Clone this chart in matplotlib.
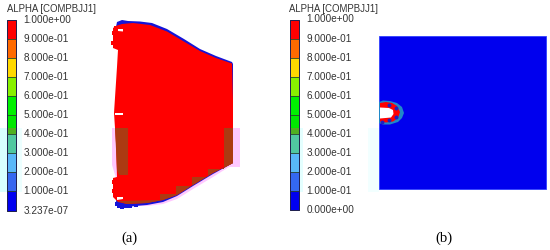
import matplotlib
matplotlib.use("Agg")
import matplotlib.pyplot as plt
from matplotlib.patches import Polygon, Rectangle

plt.rcParams["font.family"] = ["Liberation Sans", "DejaVu Sans"]

title = "ALPHA [COMPBJJ1]"
labels_a = ["1.000e+00", "9.000e-01", "8.000e-01", "7.000e-01", "6.000e-01", "5.000e-01",
            "4.000e-01", "3.000e-01", "2.000e-01", "1.000e-01", "3.237e-07"]
labels_b = labels_a[:-1] + ["0.000e+00"]
band_colors = ["#ff0000", "#ff6a00", "#ffd800", "#88f000", "#00f000",
               "#00e800", "#50c8a0", "#58b8f8", "#3468f0", "#0000f0"]

# outlines, in image pixels
blue_a = [(116, 27), (117, 22), (122, 20), (128, 21), (140, 21.5), (152, 23), (167, 29), (184, 39), (200, 49),
          (216, 56), (232, 62), (233, 64), (233, 163), (213, 174), (193, 186), (177, 196), (163, 202),
          (147, 205), (135, 206), (124, 207.5), (118, 206), (116, 202), (125, 150), (125, 60)]
red_a = [(113, 28), (117, 25.5), (122, 24), (133, 23), (150, 25), (167, 31.5), (183, 41), (200, 51), (216, 58),
         (232, 63.5), (233, 100), (233, 163), (213, 173), (193, 185), (177, 195), (163, 200), (147, 203),
         (127, 204), (118, 202), (113, 197), (113, 178), (117, 177), (116, 143), (114, 113), (117, 67),
         (118, 50), (113, 48)]
pink_a = [(112, 128), (240, 128), (240, 167), (229, 167), (213, 177), (193, 189), (177, 199), (163, 204),
          (147, 206), (120, 206), (116, 178), (112, 165)]
brown_left = [(115, 128), (128, 128), (128, 175), (119, 175), (117, 170)]
brown_right = [(224, 128), (233, 128), (233, 163), (224, 168)]
brown_steps = [(117, 201), (160, 200), (160, 194), (176, 194), (176, 186), (192, 186), (192, 177), (208, 177),
               (208, 169), (224, 169), (224, 160), (233, 160), (233, 163), (213, 173), (193, 185), (177, 195),
               (163, 200), (147, 203), (127, 204)]
white_a = [[(118, 29), (123, 29), (123, 31.5), (118, 31)], [(117, 197), (123, 197), (123, 199), (117, 200)],
           [(115, 113), (123, 113), (123, 114.5), (115, 114.5)]]
bumps_x = [114, 115, 113, 116, 114, 116, 114, 115, 117, 119, 122, 126, 130, 136]
bumps_y = [33, 38, 43, 28, 182, 186, 191, 194, 204, 206, 207, 206, 206, 205]
halo_b = [(379, 102), (383, 100.5), (390, 101), (397, 103), (402, 107), (404, 113), (402, 118), (398, 122),
          (390, 124.5), (383, 124.5), (379, 123)]
red_b = [(380, 103), (386, 102), (392, 103), (397, 106), (400, 112), (398, 118), (393, 121.5), (386, 122.5),
         (380, 121.5)]
white_b = [(380, 107.5), (389, 108), (393, 110), (393.5, 114), (391, 117.5), (380, 118.5)]
dots_x = [389, 389, 396, 396, 382]
dots_y = [105, 120, 108, 117, 122]

fig = plt.figure(figsize=(5.5, 2.5), dpi=100)
ax = fig.add_axes([0, 0, 1, 1])
ax.set_xlim(0, 550)
ax.set_ylim(250, 0)
ax.axis("off")


def colorbar(x0, y0, labels, text_x, title_x):
    h = 19.05
    ax.text(title_x, 9.5, title, fontsize=6.95, color="#333333", va="center", ha="left")
    for i, c in enumerate(band_colors):
        ax.add_patch(Rectangle((x0, y0 + i * h), 9, h, fc=c, ec="#204020", lw=0.5))
    # dimmed strip at the bottom of the 5-4 band
    ax.add_patch(Rectangle((x0, 128), 9, y0 + 6 * h - 128, fc="#50b020", ec="none"))
    ax.add_patch(Rectangle((x0, y0), 9, 10 * h, fc="none", ec="#202050", lw=0.7))
    for i, lab in enumerate(labels):
        ax.text(text_x, y0 + i * h, lab, fontsize=7.2, color="#333333", va="center", ha="left")


# pale cyan strips left by the source image
ax.add_patch(Rectangle((0, 128), 7, 64, fc="#d8ffff", ec="none"))
ax.add_patch(Rectangle((16, 128), 6, 64, fc="#ecffff", ec="none"))
ax.add_patch(Rectangle((368, 128), 11, 64, fc="#f2ffff", ec="none"))
ax.add_patch(Rectangle((298, 128), 5, 64, fc="#e4ffff", ec="none"))

colorbar(7, 20, labels_a, 23.5, 7)
colorbar(289.5, 19.5, labels_b, 306.5, 289)

# panel a
ax.add_patch(Polygon(pink_a, fc="#ffc8ff", ec="none"))
ax.add_patch(Polygon(blue_a, fc="#1414d8", ec="none"))
ax.scatter(bumps_x[8:], bumps_y[8:], s=7, marker="s", c="#1414d8", linewidths=0)
ax.add_patch(Polygon(red_a, fc="#ff0000", ec="none"))
ax.scatter(bumps_x[:8], bumps_y[:8], s=7, marker="s", c="#ff0000", linewidths=0, zorder=3)
for p in (brown_left, brown_right, brown_steps):
    ax.add_patch(Polygon(p, fc="#ac3a12", ec="none"))
for p in white_a:
    ax.add_patch(Polygon(p, fc="white", ec="none", zorder=4))

# panel b
ax.add_patch(Rectangle((379, 36), 167, 153, fc="#0000ee", ec="#3040ff", lw=0.6))
ax.add_patch(Polygon(halo_b, fc="#2088c8", ec="none"))
ax.add_patch(Polygon(red_b, fc="#ff0000", ec="none"))
ax.scatter(dots_x, dots_y, s=8, c="#2020c0", linewidths=0)
ax.add_patch(Polygon(white_b, fc="white", ec="none"))

ax.text(129.5, 238, "(a)", family="Liberation Serif", fontsize=10.5, color="black", ha="center", va="center")
ax.text(443.5, 238, "(b)", family="Liberation Serif", fontsize=10.5, color="black", ha="center", va="center")

fig.savefig("out.png", dpi=100)
